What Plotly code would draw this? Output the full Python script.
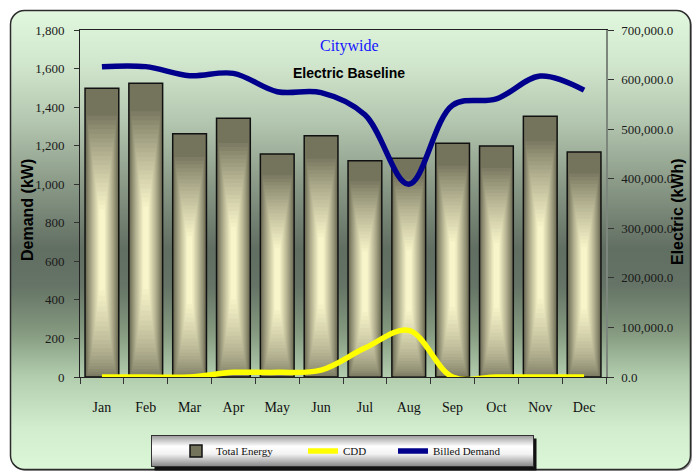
import base64
import plotly.graph_objects as go

# ---- data -------------------------------------------------------------
months = ["Jan", "Feb", "Mar", "Apr", "May", "Jun",
          "Jul", "Aug", "Sep", "Oct", "Nov", "Dec"]
total_energy_kwh = [582400, 592500, 490800, 521900, 449900, 486800,
                    436300, 441200, 471400, 466000, 525900, 453900]
cdd = [0, 0, 0, 24, 24, 36, 150, 242, 0, 0, 0, 0]
billed_demand_kw = [1610, 1610, 1563, 1575, 1480, 1475,
                    1360, 1000, 1410, 1443, 1561, 1488]
demand_ticks = [0, 200, 400, 600, 800, 1000, 1200, 1400, 1600, 1800]
energy_ticks = [0, 100000, 200000, 300000, 400000, 500000, 600000, 700000]

# ---- geometry (pixels) ------------------------------------------------
W, H = 695, 473
ML, MR, MT, MB = 80, 89, 30, 96
PW, PH = W - ML - MR, H - MT - MB


def px_x(px):
    return (px - ML) / PW


def px_y(py):
    return 1 - (py - MT) / PH


SERIF = "Liberation Serif, Times New Roman, serif"
SANS = "Liberation Sans, Arial, sans-serif"

# ---- background + legend panel drawn as an SVG image -------------------
svg = f"""<svg xmlns="http://www.w3.org/2000/svg" width="{W}" height="{H}" viewBox="0 0 {W} {H}" preserveAspectRatio="none">
<defs>
<linearGradient id="bg" x1="0" y1="0" x2="0" y2="1">
<stop offset="0" stop-color="#e2f8de"/>
<stop offset="0.11" stop-color="#d2e8ce"/>
<stop offset="0.24" stop-color="#b4c7b0"/>
<stop offset="0.37" stop-color="#8c9c89"/>
<stop offset="0.52" stop-color="#616e62"/>
<stop offset="0.60" stop-color="#657466"/>
<stop offset="0.70" stop-color="#84997f"/>
<stop offset="0.80" stop-color="#b3ceaf"/>
<stop offset="0.91" stop-color="#d2edce"/>
<stop offset="1" stop-color="#dcf6d8"/>
</linearGradient>
<linearGradient id="lg" x1="0" y1="0" x2="0" y2="1">
<stop offset="0" stop-color="#9a9a9a"/>
<stop offset="0.35" stop-color="#ffffff"/>
<stop offset="0.6" stop-color="#f2f2f2"/>
<stop offset="1" stop-color="#858585"/>
</linearGradient>
</defs>
<rect x="12" y="12" width="680" height="459" rx="14" fill="#9a9a9a"/>
<rect x="10.5" y="10.5" width="680" height="459" rx="14" fill="url(#bg)" stroke="#2c2c2c" stroke-width="1.5"/>
<rect x="154.5" y="438.5" width="382" height="32" fill="#111"/>
<rect x="151.5" y="435.5" width="382" height="31" fill="url(#lg)" stroke="#333" stroke-width="1"/>
</svg>"""
svg_uri = "data:image/svg+xml;base64," + base64.b64encode(svg.encode()).decode()

fig = go.Figure()

# ---- Total Energy bars: nested overlay layers give the shaded look ------
bar_w = 0.77
dark = (116, 115, 92)
light = (248, 245, 202)
n_layers = 22


def mix(t):
    r, g, b = (round(d + (l - d) * t) for d, l in zip(dark, light))
    return f"rgb({r},{g},{b})"


fig.add_trace(go.Bar(
    x=months, y=total_energy_kwh, width=bar_w, yaxis="y",
    marker=dict(color=mix(0), line=dict(color="#111", width=1.5)),
    name="Total Energy", legend="legend", hoverinfo="skip",
))
for k in range(1, n_layers + 1):
    f = k / n_layers
    w = bar_w * (0.93 - 0.78 * f)
    lo = 0.30 * f ** 1.4
    hi = 0.92 - 0.34 * f
    fig.add_trace(go.Bar(
        x=months,
        y=[v * (hi - lo) for v in total_energy_kwh],
        base=[v * lo for v in total_energy_kwh],
        width=w, yaxis="y",
        marker=dict(color=mix(f ** 0.85), line=dict(width=0)),
        showlegend=False, hoverinfo="skip",
    ))

# ---- lines on the demand axis -----------------------------------------
fig.add_trace(go.Scatter(
    x=months, y=cdd, yaxis="y2", mode="lines", name="CDD",
    line=dict(color="#ffff00", width=5.5, shape="spline", smoothing=1.0),
    legend="legend2",
))
fig.add_trace(go.Scatter(
    x=months, y=billed_demand_kw, yaxis="y2", mode="lines", name="Billed Demand",
    line=dict(color="#00008c", width=5.5, shape="spline", smoothing=1.0),
    legend="legend3",
))

tick_font = dict(family=SERIF, size=13, color="#1a1a1a")
legend_common = dict(
    orientation="h", yanchor="middle", xanchor="left", y=px_y(451),
    bgcolor="rgba(0,0,0,0)", borderwidth=0,
    font=dict(family=SERIF, size=11, color="#111"),
)

fig.update_layout(
    width=W, height=H,
    margin=dict(l=ML, r=MR, t=MT, b=MB, autoexpand=False),
    paper_bgcolor="white",
    plot_bgcolor="rgba(0,0,0,0)",
    barmode="overlay",
    xaxis=dict(
        type="category", categoryorder="array", categoryarray=months,
        range=[-0.5, 11.5], showgrid=False, zeroline=False,
        showline=True, mirror=True, linecolor="#222", linewidth=1,
        ticks="outside", tickson="boundaries", ticklen=6, tickcolor="#333",
        tickfont=dict(family=SERIF, size=14, color="#111"), ticklabelstandoff=17,
    ),
    yaxis=dict(
        side="right", range=[0, 700000], tickvals=energy_ticks,
        tickformat=",.1f", showgrid=False, zeroline=False,
        showline=True, linecolor="#7c867c", linewidth=1.5,
        ticks="outside", ticklen=6, tickcolor="#333",
        tickfont=tick_font, ticklabelstandoff=5,
    ),
    yaxis2=dict(
        side="left", overlaying="y", range=[0, 1800], tickvals=demand_ticks,
        tickformat=",d", showgrid=False, zeroline=False,
        showline=True, linecolor="#222", linewidth=1,
        ticks="outside", ticklen=5, tickcolor="#333",
        tickfont=tick_font, ticklabelstandoff=7,
    ),
    legend=dict(legend_common, x=px_x(176)),
    legend2=dict(legend_common, x=px_x(303)),
    legend3=dict(legend_common, x=px_x(393)),
    images=[dict(
        source=svg_uri, xref="paper", yref="paper",
        x=px_x(0), y=px_y(0), sizex=W / PW, sizey=H / PH,
        xanchor="left", yanchor="top", sizing="stretch", layer="below",
    )],
    annotations=[
        dict(text="Citywide", x=px_x(349), y=px_y(46), xref="paper", yref="paper",
             showarrow=False, xanchor="center", yanchor="middle",
             font=dict(family=SERIF, size=16, color="#1515ff")),
        dict(text="<b>Electric Baseline</b>", x=px_x(349), y=px_y(73),
             xref="paper", yref="paper", showarrow=False,
             xanchor="center", yanchor="middle",
             font=dict(family=SANS, size=14, color="#000")),
        dict(text="<b>Demand (kW)</b>", x=px_x(27), y=px_y(210),
             xref="paper", yref="paper", showarrow=False, textangle=-90,
             xanchor="center", yanchor="middle",
             font=dict(family=SANS, size=16, color="#000")),
        dict(text="<b>Electric (kWh)</b>", x=px_x(677), y=px_y(212),
             xref="paper", yref="paper", showarrow=False, textangle=-90,
             xanchor="center", yanchor="middle",
             font=dict(family=SANS, size=16, color="#000")),
    ],
)

fig.write_html("out.html")
